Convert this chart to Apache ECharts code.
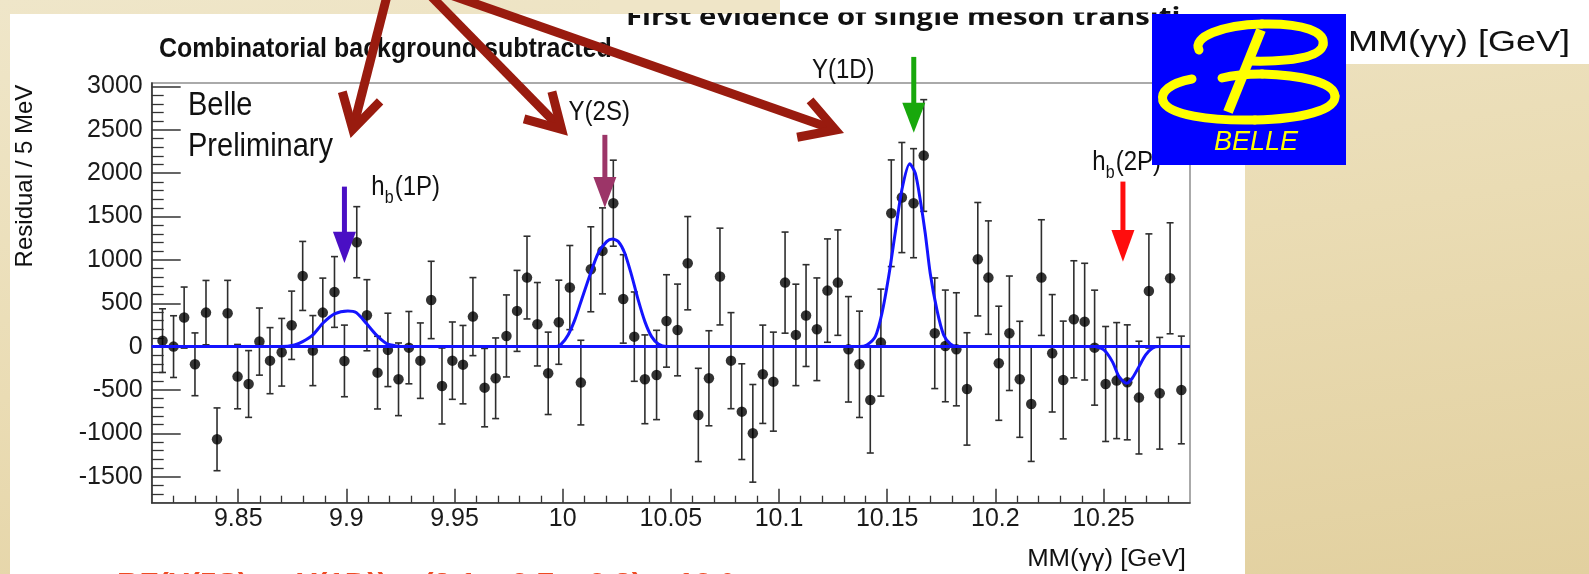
<!DOCTYPE html>
<html><head><meta charset="utf-8">
<script src="https://cdn.jsdelivr.net/npm/echarts@6.0.0/dist/echarts.min.js"></script>
<style>
html,body{margin:0;padding:0;background:#ebdfb8;}
#wrap{position:relative;width:1589px;height:574px;overflow:hidden;
 background:linear-gradient(172deg,#efe6c9 0%,#eadcb4 50%,#e2d09f 100%);}
.w{position:absolute;background:#fff;}
#c{position:absolute;left:0;top:0;width:1589px;height:574px;}
</style></head><body>
<div id="wrap">
<div class="w" style="left:10px;top:14px;width:1235px;height:560px"></div>
<div class="w" style="left:780px;top:0;width:809px;height:64px"></div>
<div id="c"></div>
</div>
<script>
// ---- data ----
const binCenters = [
9.8150,9.8201,9.8250,9.8300,9.8351,9.8402,9.8451,9.8497,9.8548,9.8598,
9.8647,9.8701,9.8747,9.8798,9.8845,9.8891,9.8945,9.8991,9.9048,9.9095,
9.9144,9.9192,9.9241,9.9289,9.9342,9.9392,9.9442,9.9490,9.9539,9.9585,
9.9639,9.9690,9.9740,9.9789,9.9835,9.9883,9.9933,9.9982,10.0033,10.0084,
10.0130,10.0184,10.0234,10.0280,10.0331,10.0380,10.0434,10.0480,10.0531,10.0578,
10.0627,10.0676,10.0727,10.0778,10.0828,10.0879,10.0925,10.0974,10.1028,10.1078,
10.1125,10.1175,10.1224,10.1272,10.1321,10.1372,10.1422,10.1471,10.1519,10.1568,
10.1622,10.1669,10.1720,10.1769,10.1820,10.1869,10.1919,10.1968,10.2016,10.2065,
10.2113,10.2166,10.2213,10.2263,10.2314,10.2363,10.2413,10.2459,10.2510,10.2561,
10.2610,10.2664,10.2710,10.2760,10.2808,10.2860];
const residuals = [
69,0,335,-204,392,-1069,385,-346,-431,58,
-162,-65,246,815,-46,392,630,-165,1204,362,
-300,-38,-377,-12,-162,538,-454,-162,-208,346,
-473,-365,123,412,796,258,-308,281,681,-415,
892,1104,1654,550,115,-377,-327,296,192,962,
-788,-365,808,-162,-750,-1000,-319,-404,738,135,
358,200,646,738,-31,-204,-615,46,1538,1719,
1654,2204,154,8,-31,-488,1008,796,-192,154,
-377,-662,796,-77,-385,315,288,-12,-431,-392,
-412,-588,642,-538,788,-500];
const errors = [
367,356,352,362,371,362,379,371,385,387,
381,390,394,398,404,398,408,413,410,410,
419,423,419,417,435,446,438,446,452,450,
452,465,473,467,477,481,475,485,485,488,
490,496,496,510,515,512,515,533,529,538,
538,548,558,554,552,563,567,571,583,585,
587,592,596,608,608,613,612,617,615,635,
629,644,638,644,652,648,654,654,658,660,
669,662,667,677,679,675,673,663,663,669,
663,650,658,644,640,621];
const fitCurve = [
[9.8100,0],[9.8700,0],[9.8760,19],[9.8798,58],[9.8845,135],[9.8891,269],[9.8945,377],[9.9007,411],[9.9045,392],[9.9092,269],[9.9138,135],[9.9184,38],[9.9230,8],[9.9280,0],
[9.9971,0],[9.9994,31],[10.0025,135],[10.0056,308],[10.0087,538],[10.0126,827],[10.0164,1077],[10.0203,1211],[10.0230,1242],[10.0257,1211],[10.0287,1077],[10.0318,827],[10.0349,538],[10.0380,288],[10.0411,115],[10.0442,31],[10.0480,0],
[10.1375,0],[10.1406,19],[10.1445,115],[10.1476,385],[10.1507,808],[10.1537,1308],[10.1568,1808],[10.1604,2108],[10.1630,2000],[10.1653,1692],[10.1676,1308],[10.1699,846],[10.1730,423],[10.1761,135],[10.1792,31],[10.1823,0],
[10.2456,0],[10.2502,-38],[10.2541,-173],[10.2572,-346],[10.2606,-423],[10.2633,-365],[10.2664,-231],[10.2695,-96],[10.2726,-19],[10.2757,0],[10.2900,0]];
const xMajorTicks = [9.85,9.9,9.95,10,10.05,10.1,10.15,10.2,10.25];
const xMinorTicks = [9.82,9.83,9.84,9.86,9.87,9.88,9.89,9.91,9.92,9.93,9.94,9.96,9.97,9.98,9.99,
10.01,10.02,10.03,10.04,10.06,10.07,10.08,10.09,10.11,10.12,10.13,10.14,10.16,10.17,10.18,10.19,
10.21,10.22,10.23,10.24,10.26,10.27,10.28];
const yMajorTicks = [-1500,-1000,-500,0,500,1000,1500,2000,2500,3000];
const yMinorTicks = [-1700,-1600,-1400,-1300,-1200,-1100,-900,-800,-700,-600,-400,-300,-200,-100,
100,200,300,400,600,700,800,900,1100,1200,1300,1400,1600,1700,1800,1900,2100,2200,2300,2400,
2600,2700,2800,2900];
const peakMarkers = [
 {x:9.8991, top:1845, headStart:1326, tip:965, color:'#4A0FC4'},
 {x:10.0195, top:2442, headStart:1957, tip:1600, color:'#9C3568'},
 {x:10.1623, top:3341, headStart:2811, tip:2465, color:'#18A80C'},
 {x:10.2590, top:1903, headStart:1346, tip:980, color:'#FF0D0D'}
];
const peakLabels = [
 {main:'h', sub:'b', rest:'(1P)', x:9.9115, y:1830},
 {main:'Y(2S)', x:10.0027, y:2695},
 {main:'Y(1D)', x:10.1152, y:3180},
 {main:'h', sub:'b', rest:'(2P)', x:10.2448, y:2119}
];
const pointerArrows = [
 {from:[388,-8], tip:[352.8,129.3]},
 {from:[427,-8], tip:[561.6,129.3]},
 {from:[442,-8], tip:[835.5,130]}
];

// ---- chart ----
const FONT = '"Liberation Sans", Arial, Helvetica, sans-serif';
const chart = echarts.init(document.getElementById('c'));
const AX = '#333';
const option = {
 animation:false,
 grid:{left:151.7, top:83, width:1038.3, height:419.7, show:true, borderColor:'#8f8f8f', borderWidth:1.5, backgroundColor:'transparent'},
 xAxis:[
  {type:'value', min:9.81, max:10.29, position:'bottom',
   axisLine:{show:true, onZero:false, lineStyle:{color:AX, width:1.6}},
   axisTick:{show:true, inside:true, length:14, customValues:xMajorTicks, lineStyle:{color:AX, width:1.5}},
   axisLabel:{show:true, customValues:xMajorTicks, formatter:v=>String(Number(Number(v).toFixed(2))), fontSize:25, color:'#1a1a1a', fontFamily:FONT, margin:4},
   splitLine:{show:false}},
  {type:'value', min:9.81, max:10.29, position:'bottom',
   axisLine:{show:false, onZero:false},
   axisTick:{show:true, inside:true, length:7, customValues:xMinorTicks, lineStyle:{color:AX, width:1.3}},
   axisLabel:{show:false}, splitLine:{show:false}}
 ],
 yAxis:[
  {type:'value', min:-1800, max:3040, position:'left',
   axisLine:{show:true, onZero:false, lineStyle:{color:AX, width:1.6}},
   axisTick:{show:true, inside:true, length:29, customValues:yMajorTicks, lineStyle:{color:AX, width:1.5}},
   axisLabel:{show:true, customValues:yMajorTicks, formatter:v=>String(v), fontSize:25, color:'#1a1a1a', fontFamily:FONT, margin:9},
   splitLine:{show:false}},
  {type:'value', min:-1800, max:3040, position:'left',
   axisLine:{show:false, onZero:false},
   axisTick:{show:true, inside:true, length:12, customValues:yMinorTicks, lineStyle:{color:AX, width:1.3}},
   axisLabel:{show:false}, splitLine:{show:false}}
 ],
 series:[
  {type:'custom', xAxisIndex:0, yAxisIndex:0, z:3,
   data: binCenters.map((x,i)=>[x, residuals[i], errors[i]]),
   encode:{x:0, y:1},
   renderItem:function(params, api){
     const x=api.value(0), y=api.value(1), e=api.value(2);
     const lo=api.coord([x,y-e]), hi=api.coord([x,y+e]);
     const c=3.5, st={stroke:'#2e2e2e', lineWidth:1.6};
     return {type:'group', children:[
       {type:'line', shape:{x1:lo[0],y1:lo[1],x2:hi[0],y2:hi[1]}, style:st},
       {type:'line', shape:{x1:lo[0]-c,y1:lo[1],x2:lo[0]+c,y2:lo[1]}, style:st},
       {type:'line', shape:{x1:hi[0]-c,y1:hi[1],x2:hi[0]+c,y2:hi[1]}, style:st}
     ]};
   }},
  {type:'scatter', xAxisIndex:0, yAxisIndex:0, z:4, symbol:'circle', symbolSize:10.5,
   itemStyle:{color:'#000'}, data: binCenters.map((x,i)=>[x, residuals[i]])},
  {type:'line', xAxisIndex:0, yAxisIndex:0, z:5, data:fitCurve, showSymbol:false, smooth:0.25,
   lineStyle:{color:'#1414ff', width:3},
   markLine:{silent:true, symbol:['none','none'], label:{show:false},
     lineStyle:{color:'#1414ff', width:3, type:'solid'}, data:[{yAxis:0}]}}
 ]
};
chart.setOption(option);

function px(x,y){ return chart.convertToPixel({xAxisIndex:0, yAxisIndex:0}, [x,y]); }
function text(x,y,t,size,opt){
  opt = opt || {};
  return {type:'text', x:x, y:y, z:opt.z||60, rotation:opt.rotation||0,
    scaleX:opt.scaleX||1, scaleY:opt.scaleY||1,
    style:{text:t, fill:opt.fill||'#111', fontSize:size, fontFamily:opt.family||FONT,
      fontWeight:opt.weight||'normal', fontStyle:opt.style||'normal',
      align:opt.align||'left', verticalAlign:opt.va||'middle'}};
}
const g = [];
// chart-internal texts
g.push(text(159, 49.5, 'Combinatorial background subtracted', 25, {weight:'bold', scaleY:1.12}));
g.push(text(188, 106, 'Belle', 29, {scaleY:1.15}));
g.push(text(188, 147, 'Preliminary', 29, {scaleY:1.15}));
g.push(text(25, 176, 'Residual / 5 MeV', 24, {rotation:Math.PI/2, align:'center'}));
g.push(text(1186, 559, 'MM(\u03b3\u03b3) [GeV]', 23, {align:'right', scaleX:1.12, scaleY:1.05}));
// peak arrows
peakMarkers.forEach(m=>{
  const t = px(m.x, m.top), h = px(m.x, m.headStart), p = px(m.x, m.tip);
  g.push({type:'rect', z:55, shape:{x:t[0]-2.5, y:t[1], width:5, height:h[1]-t[1]+1}, style:{fill:m.color}});
  g.push({type:'polygon', z:55, shape:{points:[[h[0]-11.5,h[1]],[h[0]+11.5,h[1]],[p[0],p[1]]]}, style:{fill:m.color}});
});
// peak labels
peakLabels.forEach(l=>{
  const q = px(l.x, l.y);
  if (l.sub) {
    g.push(text(q[0], q[1], l.main, 24, {scaleY:1.12}));
    g.push(text(q[0]+13.5, q[1]+10, l.sub, 16, {scaleY:1.12}));
    g.push(text(q[0]+23.5, q[1], l.rest, 24, {scaleY:1.12}));
  } else {
    g.push(text(q[0], q[1], l.main, 24, {scaleY:1.12}));
  }
});
// slide title (clipped at top)
g.push(text(626, 30, 'First evidence of single meson transiti', 25, {weight:'bold', family:'"Open Sans", sans-serif', va:'bottom', scaleX:1.17, z:62}));
g.push({type:'rect', z:63, shape:{x:600, y:0, width:180, height:13}, style:{fill:'#efe5c7'}});
g.push({type:'rect', z:63, shape:{x:780, y:0, width:380, height:12.5}, style:{fill:'#ffffff'}});
// top-right text
g.push(text(1348, 43, 'MM(\u03b3\u03b3) [GeV]', 30, {scaleX:1.2, z:62}));
// bottom red text (mostly cut off)
g.push(text(117, 585, 'BF(Y(5S) \u2192 Y(1D)) = (2.1 \u00b1 0.7 \u00b1 0.3) \u00d7 10\u207b\u00b3', 27, {weight:'bold', fill:'#ee4a22', scaleX:1.15, z:62}));
// Belle logo
g.push({type:'rect', z:70, shape:{x:1152, y:14, width:194, height:151}, style:{fill:'#0000ff'}});
const YEL = '#ffff00';
const bez = (a)=>({type:'bezierCurve', z:71, shape:{x1:a[0],y1:a[1],cpx1:a[2],cpy1:a[3],cpx2:a[4],cpy2:a[5],x2:a[6],y2:a[7]}, style:{fill:'none', stroke:YEL, lineWidth:9, lineCap:'round'}});
[
 [1199,50, 1192,37, 1222,25, 1262,24],
 [1262,24, 1304,23, 1326,32, 1323,45],
 [1323,45, 1320,57, 1292,62, 1250,61],
 [1192,79, 1170,83, 1160,92, 1163,101],
 [1163,101, 1168,115, 1210,121, 1255,120],
 [1255,120, 1302,119, 1336,110, 1335,96],
 [1335,96, 1334,82, 1300,75, 1262,74],
 [1262,74, 1246,74, 1234,75, 1222,78]
].forEach(a=>g.push(bez(a)));
g.push({type:'line', z:71, shape:{x1:1261,y1:30,x2:1228,y2:112}, style:{stroke:YEL, lineWidth:10}});
g.push(text(1256, 142, 'BELLE', 27, {align:'center', style:'italic', fill:YEL, z:72}));
// dark red pointer arrows
pointerArrows.forEach(a=>{
  const dx=a.from[0]-a.tip[0], dy=a.from[1]-a.tip[1], L=Math.hypot(dx,dy);
  const ux=dx/L, uy=dy/L, len=39, ang=Math.PI/6;
  const r=(s)=>[a.tip[0]+len*(ux*Math.cos(s)-uy*Math.sin(s)), a.tip[1]+len*(ux*Math.sin(s)+uy*Math.cos(s))];
  g.push({type:'line', z:90, shape:{x1:a.from[0], y1:a.from[1], x2:a.tip[0]+ux*3, y2:a.tip[1]+uy*3}, style:{stroke:'#991b0f', lineWidth:9}});
  g.push({type:'polyline', z:90, shape:{points:[r(ang), a.tip, r(-ang)]}, style:{stroke:'#991b0f', lineWidth:9, lineJoin:'miter'}});
});
chart.setOption({graphic:{elements:g}});
</script>
</body></html>
